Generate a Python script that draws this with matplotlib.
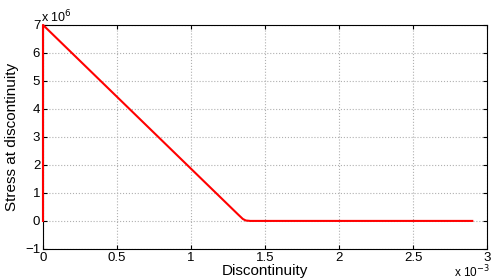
import numpy as np
import matplotlib.pyplot as plt
from matplotlib.ticker import FuncFormatter

plt.rcParams['font.family'] = ['Liberation Sans', 'DejaVu Sans']

# discontinuity (m) and stress (Pa)
disc = [0.0, 0.0, 1.32e-3, 1.35e-3, 1.37e-3, 1.40e-3, 2.9e-3]
stress = [0.0, 7.0e6, 0.22e6, 0.07e6, 0.015e6, 0.0, 0.0]

xticks = np.arange(0, 3.01e-3, 0.5e-3)
yticks = np.arange(-1e6, 7.01e6, 1e6)

fig = plt.figure(figsize=(4.94, 2.80), dpi=100)
ax = fig.add_axes([0.087, 0.111, 0.899, 0.8])
ax.plot(disc, stress, color='red', linewidth=1.5, clip_on=False, zorder=5)

ax.set_xlim(0, 3e-3)
ax.set_ylim(-1e6, 7e6)
ax.set_xticks(xticks)
ax.set_yticks(yticks)
ax.xaxis.set_major_formatter(FuncFormatter(lambda v, p: '%g' % round(v * 1e3, 3)))
ax.yaxis.set_major_formatter(FuncFormatter(lambda v, p: ('%g' % round(v / 1e6, 3)).replace('-', '\u2212')))
ax.tick_params(direction='in', top=True, right=True, labelsize=9.5, length=3, pad=2)
ax.grid(True, linestyle=':', color='#b0b0b0', linewidth=0.8)
for s in ax.spines.values():
    s.set_linewidth(0.8)

ax.set_xlabel('Discontinuity', fontsize=11, labelpad=0)
ax.set_ylabel('Stress at discontinuity', fontsize=11, labelpad=4)
ax.text(-0.005, 1.0, r'x 10$^{6}$', transform=ax.transAxes, fontsize=9,
        ha='left', va='bottom')
ax.text(1.005, -0.068, r'x 10$^{-3}$', transform=ax.transAxes, fontsize=8.5,
        ha='right', va='top')

fig.savefig('out.png', dpi=100)
